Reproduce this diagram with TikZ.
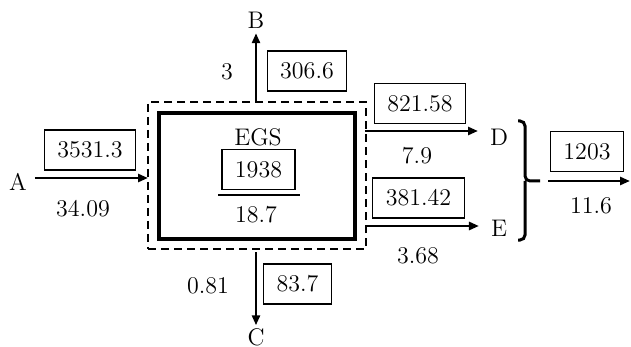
\documentclass[tikz,border=0pt]{standalone}
\usepackage{tikz}
\usetikzlibrary{arrows.meta}

\begin{document}
\begin{tikzpicture}[x=0.5pt,y=-0.5pt,line width=1.35pt,>={Triangle[length=5pt,width=4pt]},
  font=\fontsize{12}{14}\selectfont,
  val/.style={draw,line width=0.65pt,inner xsep=6.5pt,minimum height=20pt}]
  \useasboundingbox (0,0) rectangle (631,347);
  % volumen de control y sistema
  \node[draw,dash pattern=on 4pt off 2.5pt,line width=1.1pt,minimum width=109pt,minimum height=73.5pt,inner sep=0pt] (cv) at (257,175.5){};
  \node[draw,line width=1.6pt,minimum width=98pt,minimum height=63pt,inner sep=0pt] (egs) at (257,176){};
  \node (egsl) at (258,137){EGS};
  \node[val] (q0) at (258.5,169.5){1938};
  \draw[line width=1.2pt] ([xshift=-1.5pt,yshift=-2.5pt]q0.south west) -- ([xshift=2pt,yshift=-2.5pt]q0.south east);
  \node (s0) at (256,215){18.7};
  % entrada A
  \node (A) at (18,182){A};
  \coordinate (a0) at (148,178);
  \draw[->] (A.east |- a0) -- (a0);
  \node[val] (qA) at (90,150){3531.3};
  \node (mA) at (83,209){34.09};
  % salidas B y C
  \node (B) at (256,20){B};
  \draw[->,shorten >=-1.5pt] (cv.north -| B) -- (B.south);
  \node (mB) at (227,72){3};
  \node[val] (qB) at (307,71){306.6};
  \node (C) at (256,337){C};
  \draw[->,shorten >=-2.5pt] ([yshift=-1pt]cv.south -| C) -- (C.north);
  \node (mC) at (208,286){0.81};
  \node[val] (qC) at (297.5,284){83.7};
  % salidas D y E
  \node (D) at (499,137){D};
  \node (E) at (499,228){E};
  \coordinate (d0) at (365,131);
  \coordinate (e0) at (365,226);
  \draw[->,shorten >=2pt] (d0) -- (d0 -| D.west);
  \draw[->,shorten >=2pt] (e0) -- (e0 -| E.west);
  \node[val] (qD) at (420,103.5){821.58};
  \node (mD) at (417,156){7.9};
  \node[val] (qE) at (418.5,198){381.42};
  \node (mE) at (418,256){3.68};
  % llave y total
  \coordinate (tip) at (540,181);
  \draw[line width=1.5pt,rounded corners=2.5pt] (518,121) -- (525,121) -- (525,181) -- (tip);
  \draw[line width=1.5pt,rounded corners=2.5pt] (518,240) -- (525,240) -- (525,181);
  \coordinate (out) at (630,181);
  \draw[->] ([xshift=4pt]tip) -- (out);
  \node[val] (qT) at (587,151.5){1203};
  \node (mT) at (591,206){11.6};
\end{tikzpicture}
\end{document}
